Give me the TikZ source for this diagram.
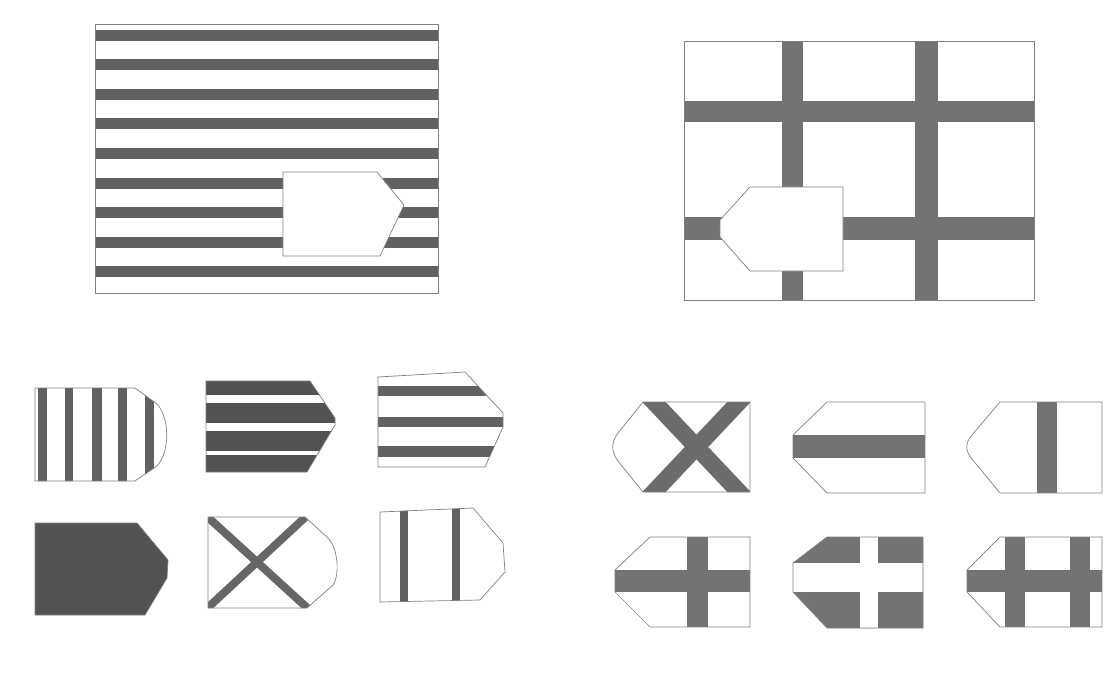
\documentclass[tikz,border=0pt]{standalone}
\begin{document}
\begin{tikzpicture}[x=1pt,y=-1pt]
\tikzset{
  outl/.style={draw=black!50,line width=0.7pt},
  band/.style={fill=black!62},
  lband/.style={fill=black!55},
  dark/.style={fill=black!68}
}
\fill[white] (0,0) rectangle (1104,690);
\useasboundingbox (0,0) rectangle (1104,690);

% ---------- top-left puzzle ----------
\foreach \i in {0,...,8}{
  \fill[band] (95,{29.6+29.6*\i}) rectangle (438,{40.6+29.6*\i});
}
\draw[outl] (95,24) rectangle (438,293);
\filldraw[fill=white,outl] (283,172)--(377,172)--(404,205)--(380,256)--(283,256)--cycle;

% ---------- top-right puzzle ----------
\fill[lband] (782,41) rectangle (803,300);
\fill[lband] (915,41) rectangle (938,300);
\fill[lband] (684,101) rectangle (1034,122);
\fill[lband] (684,217) rectangle (1034,240);
\draw[outl] (684,41) rectangle (1034,300);
\filldraw[fill=white,outl] (843,187)--(750,187)--(720,220)--(720,237)--(750,271)--(843,271)--cycle;

% ---------- left options ----------
% 1
\def\pa{(35,388)--(135,388)--(157,404) .. controls (170,418) and (170,452) .. (157,466)--(135,481)--(35,481)--cycle}
\begin{scope}
  \clip \pa;
  \foreach \a/\b in {38/47,65/73,92/102,118/127,145/154}{
    \fill[band] (\a,380) rectangle (\b,490);
  }
\end{scope}
\draw[outl] \pa;
% 2
\def\pb{(206,381)--(310,381)--(335,418)--(335,425)--(307,472)--(206,472)--cycle}
\fill[dark] \pb;
\begin{scope}
  \clip \pb;
  \fill[white] (200,395) rectangle (340,403);
  \fill[white] (200,423) rectangle (340,431);
  \fill[white] (200,451) rectangle (340,455);
\end{scope}
\draw[outl] \pb;
% 3
\def\pc{(378,377)--(465,372)--(503,413)--(503,427)--(485,467)--(378,467)--cycle}
\begin{scope}
  \clip \pc;
  \fill[band] (370,386) rectangle (510,396);
  \fill[band] (370,417) rectangle (510,427);
  \fill[band] (370,446) rectangle (510,457);
\end{scope}
\draw[outl] \pc;
% 4
\def\pd{(35,523)--(137,523)--(168,560)--(167,578)--(145,615)--(35,615)--cycle}
\fill[dark] \pd;
\draw[outl] \pd;
% 5
\def\pe{(208,517)--(305,517)--(328,538) .. controls (338,548) and (340,575) .. (333,585)--(307,608)--(208,608)--cycle}
\begin{scope}
  \clip \pe;
  \draw[black!60,line width=8pt] (200,510)--(315,615);
  \draw[black!60,line width=8pt] (313,510)--(200,615);
\end{scope}
\draw[outl] \pe;
% 6
\def\pf{(380,512)--(473,508)--(503,543)--(505,572)--(480,600)--(380,602)--cycle}
\begin{scope}
  \clip \pf;
  \fill[band] (400,500) rectangle (408,610);
  \fill[band] (452,500) rectangle (460,610);
\end{scope}
\draw[outl] \pf;

% ---------- right options ----------
% A
\def\qa{(750,402)--(643,402)--(618,433) .. controls (611,442) and (611,452) .. (618,461)--(643,492)--(750,492)--cycle}
\begin{scope}
  \clip \qa;
  \draw[black!58,line width=17pt] (637,384)--(756,510);
  \draw[black!58,line width=17pt] (756,384)--(637,510);
\end{scope}
\draw[outl] \qa;
% B
\def\qb{(925,402)--(827,402)--(793,435)--(793,458)--(827,493)--(925,493)--cycle}
\fill[lband] (793,435) rectangle (925,458);
\draw[outl] \qb;
% C
\def\qc{(1102,402)--(1000,402)--(972,435) .. controls (965,443) and (965,451) .. (972,459)--(1000,493)--(1102,493)--cycle}
\fill[lband] (1037,402) rectangle (1057,493);
\draw[outl] \qc;
% D
\def\qd{(750,537)--(650,537)--(615,570)--(615,592)--(650,627)--(750,627)--cycle}
\fill[lband] (615,570) rectangle (750,592);
\fill[lband] (687,537) rectangle (708,627);
\draw[outl] \qd;
% E
\def\qe{(923,537)--(827,537)--(793,563)--(793,592)--(827,628)--(923,628)--cycle}
\fill[lband] \qe;
\fill[white] (793,563) rectangle (923,592);
\fill[white] (860,537) rectangle (878,628);
\draw[outl] \qe;
% F
\def\qf{(1102,537)--(1000,537)--(967,570)--(967,592)--(1000,627)--(1102,627)--cycle}
\fill[lband] (967,570) rectangle (1102,592);
\fill[lband] (1005,537) rectangle (1025,627);
\fill[lband] (1070,537) rectangle (1090,627);
\draw[outl] \qf;
\end{tikzpicture}
\end{document}
